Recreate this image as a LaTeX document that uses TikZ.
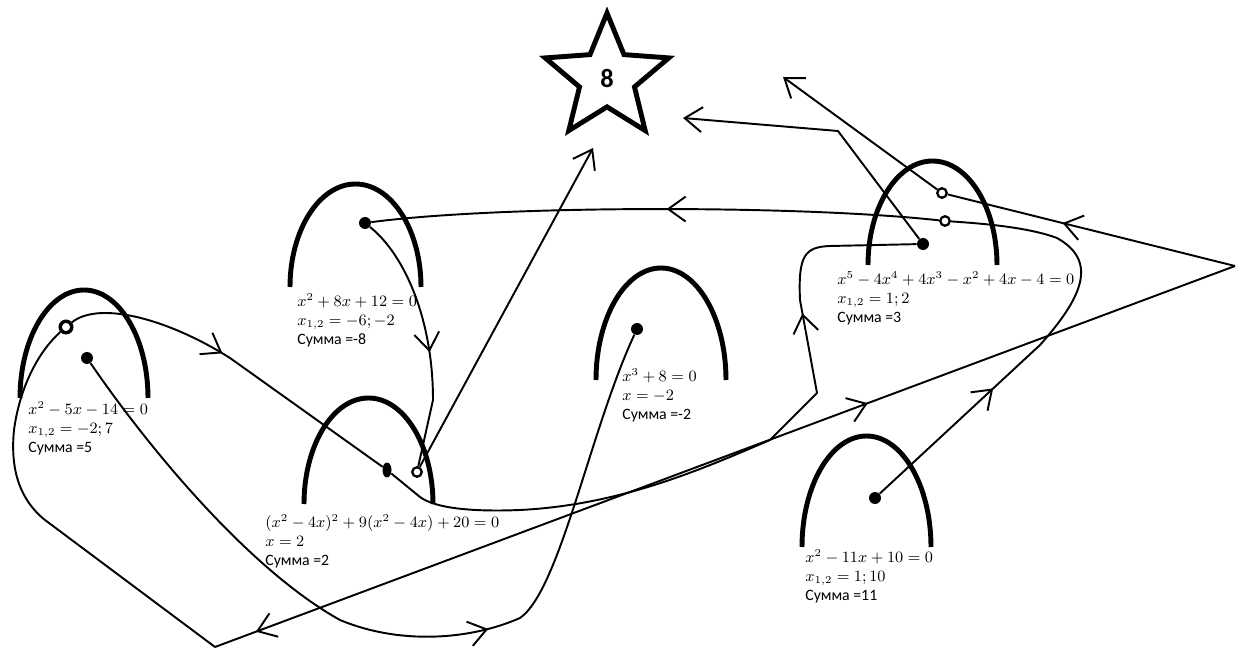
\documentclass[tikz,border=0pt]{standalone}
\usepackage{fontspec}
\setmainfont{Carlito}
\usetikzlibrary{arrows.meta,decorations.markings,shapes.geometric}

\tikzset{
  hill/.style={line width=2.8pt},
  link/.style={line width=1.1pt, line join=round},
  dot/.style={circle, fill, inner sep=0pt, minimum size=2.4mm},
  ring/.style={circle, draw, fill=white, line width=1.3pt, inner sep=0pt, minimum size=1.9mm},
  eq/.style={anchor=north west, align=left, inner sep=0pt, font=\fontsize{9}{10.6}\selectfont},
  barb/.tip={Straight Barb[length=3.5mm, width=5mm]},
  midfwd/.style={postaction={decorate}, decoration={markings, mark=at position #1 with {\arrow{barb}}}},
  midback/.style={postaction={decorate}, decoration={markings, mark=at position #1 with {\arrowreversed{barb}}}},
}

\begin{document}
\begin{tikzpicture}[x=0.02cm, y=-0.02cm]
\useasboundingbox (0,0) rectangle (1238,648);

% hills
\foreach \xl/\xr/\yb/\yt in {20/148/398/290, 290/421/287/184, 304/433/504/398,
                             596/726/380/268, 868/997/265/161, 802/931/547/436}{
  \draw[hill] (\xl,\yb) arc[start angle=180, end angle=360, x radius={(\xr-\xl)/2}, y radius={\yb-\yt}];
}

\node[star, star points=5, star point ratio=2.25, minimum size=2.6cm, draw, line width=2.8pt,
      inner sep=0pt, text depth=-0.2cm, font=\fontsize{15}{18}\selectfont\bfseries] (star) at (607,78) {8};

% dots
\node[ring, line width=2pt, minimum size=2.3mm] (A1) at (66,327) {};
\node[dot] (A2) at (87,358) {};
\node[dot] (B1) at (365,223) {};
\node[ellipse, fill, inner sep=0pt, minimum width=1.8mm, minimum height=3mm] (C1) at (387,470) {};
\node[ring] (C2) at (417,472) {};
\node[dot] (D1) at (637,329) {};
\node[ring] (E1) at (942,193) {};
\node[ring] (E2) at (945,221) {};
\node[dot] (E3) at (923,244) {};
\node[dot] (F1) at (875,498) {};

\coordinate (s1) at (593,148);
\coordinate (s2) at (683,118);
\coordinate (s3) at (783,77);
\coordinate (kink) at (838,131);
\coordinate (tip) at (1235,266);
\coordinate (bend) at (215,647);

% equations
\node[eq] (tA) at (28,401) {$x^2-5x-14=0$\\$x_{1,2}=-2;7$\\Сумма =5};
\node[eq] (tB) at (297,293) {$x^2+8x+12=0$\\$x_{1,2}=-6;-2$\\Сумма =-8};
\node[eq] (tC) at (265,514) {$(x^2-4x)^2+9(x^2-4x)+20=0$\\$x=2$\\Сумма =2};
\node[eq] (tD) at (622,368) {$x^3+8=0$\\$x=-2$\\Сумма =-2};
\node[eq] (tE) at (837,271) {$x^5-4x^4+4x^3-x^2+4x-4=0$\\$x_{1,2}=1;2$\\Сумма =3};
\node[eq] (tF) at (805,549) {$x^2-11x+10=0$\\$x_{1,2}=1;10$\\Сумма =11};

% connectors
\draw[link, midfwd=0.45] (A1) .. controls (100,300) and (170,320) .. (230,358) -- (C1);
\draw[link, midfwd=0.76] (C1) -- (420,497) .. controls (435,508) and (470,512) .. (520,510)
  .. controls (620,505) and (700,470) .. (770,440) -- (817,393) -- (800,300)
  .. controls (798,255) and (805,247) .. (830,246) -- (E3);
\draw[link, midfwd=0.55] (B1) .. controls (405,255) and (433,320) .. (433,400) -- (C2);
\draw[link, -barb] (C2) -- (s1);
\draw[link, midfwd=0.48] (E2) .. controls (800,205) and (500,205) .. (B1);
\draw[link, midfwd=0.34] (F1) -- (1040,345) .. controls (1080,300) and (1100,262) .. (1057,238)
  .. controls (1030,228) and (990,224) .. (E2);
\draw[link, -barb] (E3) -- (kink) -- (s2);
\draw[link, -barb] (E1) -- (s3);
\draw[link, midback=0.4] (E1) -- (tip);
\draw[link, postaction={decorate}, decoration={markings,
  mark=at position 0.36 with {\arrowreversed{barb}},
  mark=at position 0.96 with {\arrow{barb}}}] (tip) -- (bend);
\draw[link] (bend) -- (45,520) .. controls (20,500) and (10,470) .. (14,430)
  .. controls (20,385) and (40,350) .. (A1);
\draw[link, midfwd=0.6] (A2) .. controls (150,450) and (250,570) .. (340,620)
  .. controls (400,645) and (470,640) .. (520,618) .. controls (560,590) and (590,430) .. (D1);

\end{tikzpicture}
\end{document}
